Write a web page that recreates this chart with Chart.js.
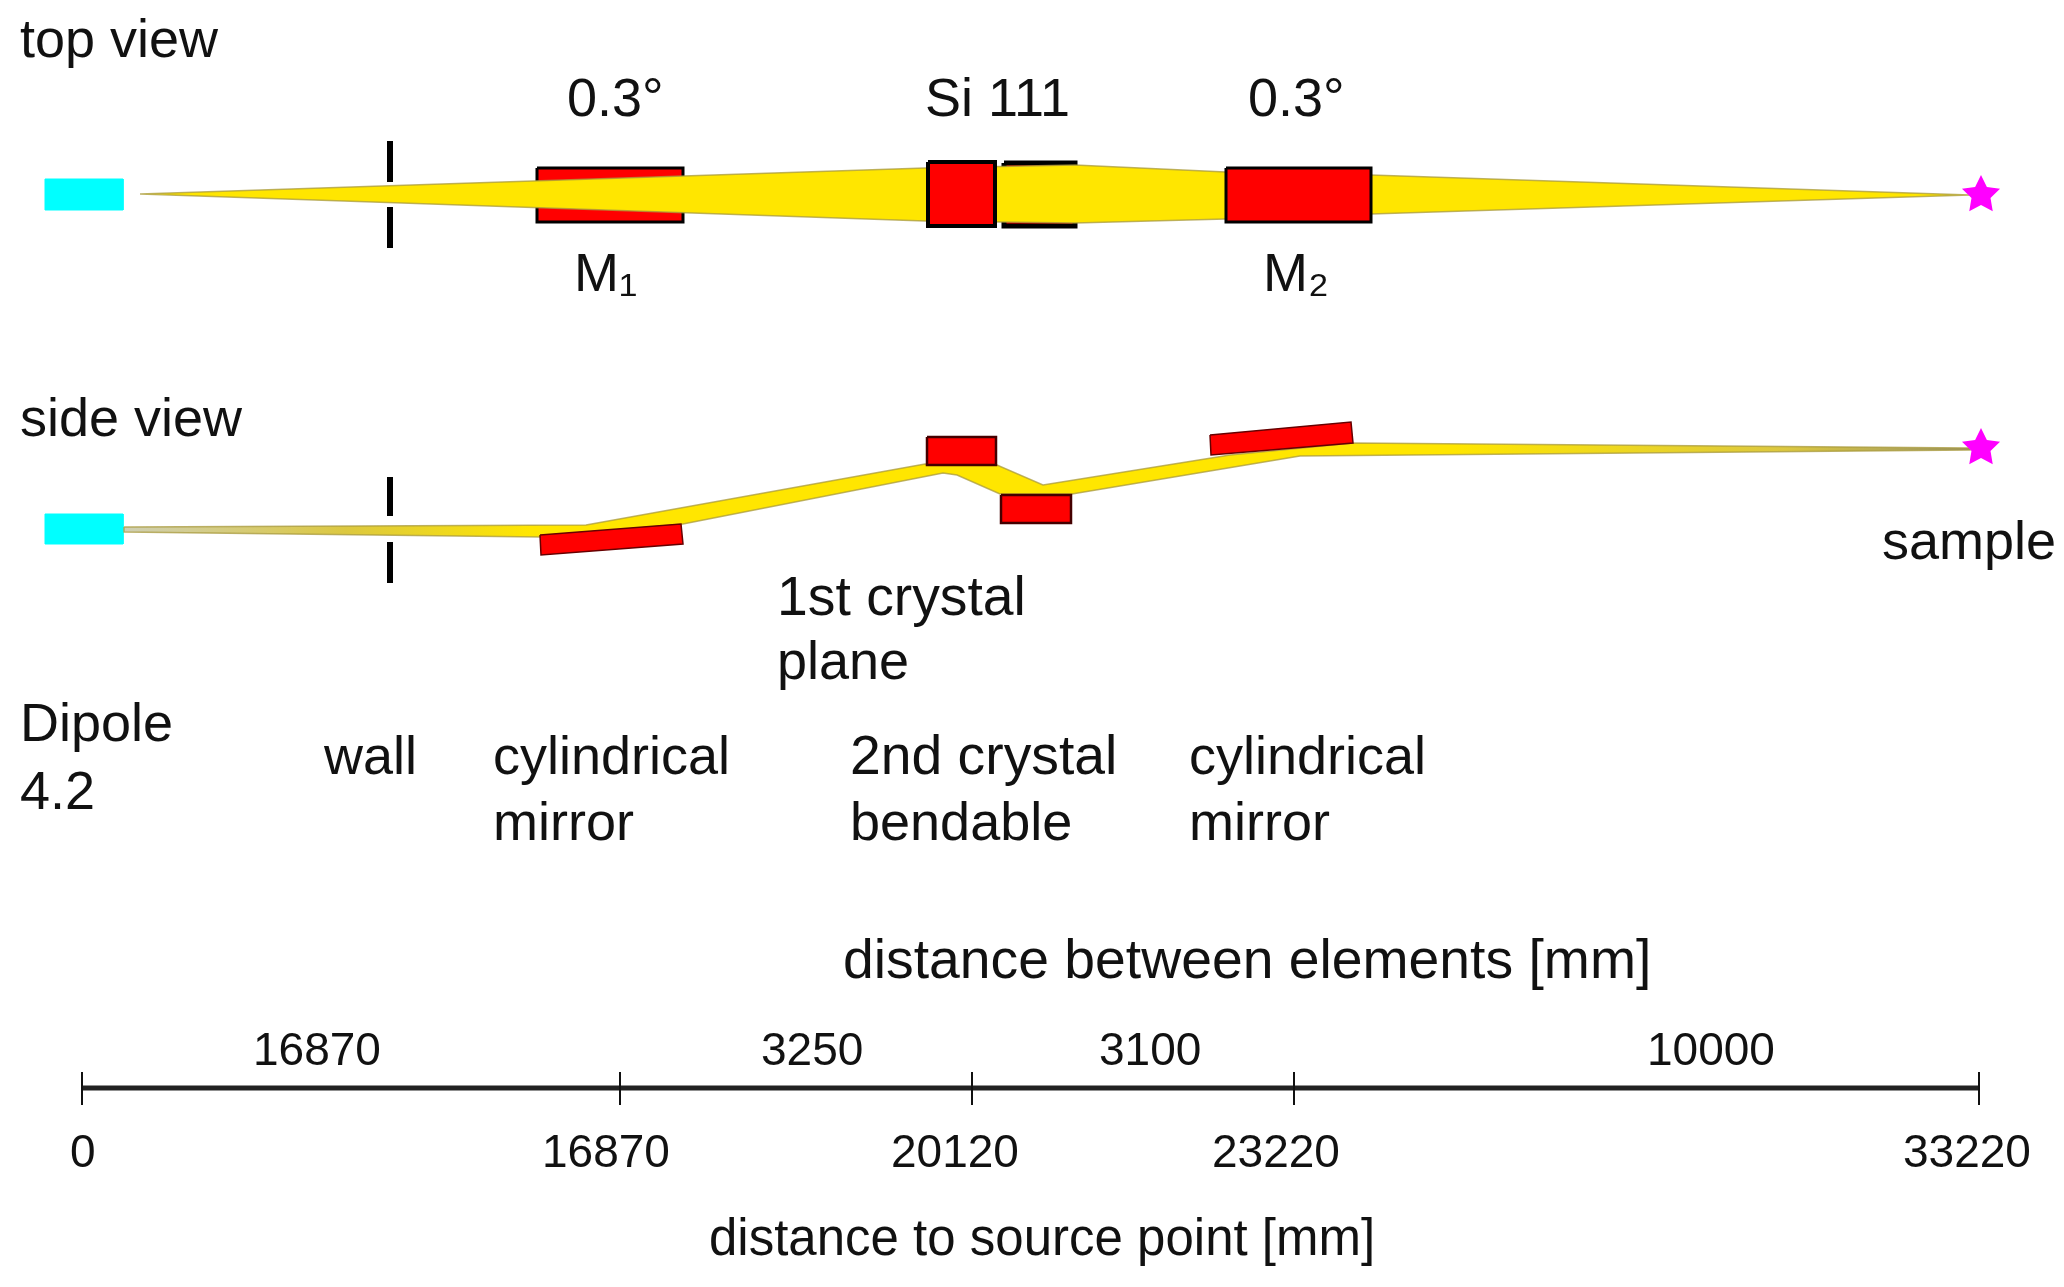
<!DOCTYPE html>
<html>
<head>
<meta charset="utf-8">
<style>
  html, body { margin: 0; background: #fff; }
  canvas { display: block; }
</style>
<script src="https://cdn.jsdelivr.net/npm/chart.js@4"></script>
</head>
<body>
<canvas id="chart" width="2064" height="1287"></canvas>
<script>
// schematic, so both scales just run over the width and height of the figure

// top view
var sourceTopX = [45, 123, 123, 45, 45]
var sourceTopY = [179, 179, 210, 210, 179]
var wallUpperX = [390, 390]
var wallTopUpperY = [141, 182]
var wallTopLowerY = [207, 248]
var mirror1TopX = [537, 683, 683, 537, 537]
var mirror1TopY = [168, 168, 222, 222, 168]
var crystal1TopX = [928, 995, 995, 928, 928]
var crystal1TopY = [162, 162, 226, 226, 162]
var crystal2TopX = [1004, 1075, 1075, 1004, 1004]
var crystal2TopY = [163, 163, 226, 226, 163]
var mirror2TopX = [1226, 1371, 1371, 1226, 1226]
var mirror2TopY = [168, 168, 222, 222, 168]
var beamTopX = [140, 925, 1075, 1226, 1371, 1970, 1371, 1226, 1075, 925, 140]
var beamTopY = [194, 168, 165, 172, 175, 195, 214, 219, 223, 221, 194]

// side view
var sourceSideX = sourceTopX
var sourceSideY = [514, 514, 544, 544, 514]
var wallSideUpperY = [477, 516]
var wallSideLowerY = [542, 583]
var mirror1SideX = [540, 681, 683, 541, 540]
var mirror1SideY = [535, 524, 544, 555, 535]
var crystal1SideX = [927, 996, 996, 927, 927]
var crystal1SideY = [437, 437, 465, 465, 437]
var crystal2SideX = [1001, 1071, 1071, 1001, 1001]
var crystal2SideY = [495, 495, 523, 523, 495]
var mirror2SideX = [1210, 1351, 1353, 1211, 1210]
var mirror2SideY = [435, 422, 443, 455, 435]
var beamSideX = [124, 586, 925, 997, 1043, 1230, 1353, 1970, 1970, 1300, 1072, 1000, 957, 943, 683, 540, 124, 124]
var beamSideY = [527, 525, 464, 465, 485, 455, 443, 448, 450, 456, 494, 494, 475, 473, 524, 537, 532, 527]

// samples
var sampleX = [1981, 1981]
var sampleY = [194, 447]

// distance axis
var axisPos = [82, 620, 972, 1294, 1979]
var axisValues = ['0', '16870', '20120', '23220', '33220']
var axisValueX = [70, 542, 891, 1212, 1903]
var gapValues = ['16870', '3250', '3100', '10000']
var gapValueX = [253, 761, 1099, 1647]

var labelText = ['top view', '0.3°', 'Si 111', '0.3°', 'M₁', 'M₂', 'side view', 'sample',
    'plane', 'Dipole', '4.2', 'wall', 'cylindrical', 'mirror',
    'bendable', 'cylindrical', 'mirror']
var labelX = [20, 567, 925, 1248, 574, 1263, 20, 1882, 777, 20, 20, 324, 493, 493, 850, 1189, 1189]
var labelY = [57, 116, 116, 116, 291, 291, 436, 559, 679, 741, 809, 774, 774, 840, 840, 774, 840]

var wideText = ['1st crystal', '2nd crystal', 'distance between elements [mm]']
var wideX = [777, 850, 843]
var wideY = [615, 774, 978]

var footerText = 'distance to source point [mm]'
var footerX = 709
var footerY = 1255

var RED = '#ff0000', YELLOW = '#ffe600', CYAN = '#00ffff', OLIVE = 'rgba(168,154,60,0.75)'

var ctx = document.getElementById('chart').getContext('2d')
var datasets = []

function shape(xs, ys, fillColor, edge, edgeWidth) {
    datasets.push({
        data: xs.map((x, i) => ({ x: x, y: ys[i] })),
        showLine: true,
        borderColor: edge || fillColor,
        borderWidth: edgeWidth === undefined ? 1 : edgeWidth,
        backgroundColor: fillColor,
        fill: 'shape',
        pointRadius: 0,
        order: -datasets.length
    })
}

function line(xs, ys, color, width) {
    datasets.push({
        data: xs.map((x, i) => ({ x: x, y: ys[i] })),
        showLine: true,
        borderColor: color,
        borderWidth: width,
        fill: false,
        pointRadius: 0,
        order: -datasets.length
    })
}

function makeStar() {
    var c = document.createElement('canvas')
    c.width = 40; c.height = 40
    var g = c.getContext('2d')
    g.fillStyle = '#ff00ff'
    g.beginPath()
    for (var i = 0; i < 10; i++) {
        var r = i % 2 ? 10 : 20
        var a = -Math.PI / 2 + i * Math.PI / 5
        g.lineTo(20 + r * Math.cos(a), 21 + r * Math.sin(a))
    }
    g.closePath()
    g.fill()
    return c
}

// the side beam washes out to grey at both thin ends
var sideBeamFill = ctx.createLinearGradient(124, 0, 1970, 0)
sideBeamFill.addColorStop(0, '#cfcfb4')
sideBeamFill.addColorStop(0.12, '#dcc840')
sideBeamFill.addColorStop(0.22, YELLOW)
sideBeamFill.addColorStop(0.72, YELLOW)
sideBeamFill.addColorStop(0.9, '#dcc840')
sideBeamFill.addColorStop(1, '#9a9466')

// top view, back to front
shape(sourceTopX, sourceTopY, CYAN)
shape(mirror1TopX, mirror1TopY, RED, '#000', 3)
shape(crystal2TopX, crystal2TopY, RED, '#000', 5)
shape(beamTopX, beamTopY, YELLOW, OLIVE, 1.5)
shape(crystal1TopX, crystal1TopY, RED, '#000', 4)
shape(mirror2TopX, mirror2TopY, RED, '#000', 3)
line(wallUpperX, wallTopUpperY, '#000', 6)
line(wallUpperX, wallTopLowerY, '#000', 6)

// side view
shape(sourceSideX, sourceSideY, CYAN)
shape(beamSideX, beamSideY, sideBeamFill, OLIVE, 1.5)
shape(mirror1SideX, mirror1SideY, RED, '#600', 1.5)
shape(crystal1SideX, crystal1SideY, RED, '#400', 2.5)
shape(crystal2SideX, crystal2SideY, RED, '#400', 2.5)
shape(mirror2SideX, mirror2SideY, RED, '#600', 1.5)
line(wallUpperX, wallSideUpperY, '#000', 6)
line(wallUpperX, wallSideLowerY, '#000', 6)

// axis
line([axisPos[0], axisPos[axisPos.length - 1]], [1088, 1088], '#222', 5)
axisPos.forEach(p => line([p, p], [1072, 1105], '#111', 2))

// stars on top of the beam ends
datasets.push({
    data: sampleX.map((x, i) => ({ x: x, y: sampleY[i] })),
    showLine: false,
    pointStyle: makeStar(),
    pointRadius: 20,
    order: -datasets.length
})

var textPlugin = {
    id: 'figureText',
    afterDatasetsDraw(chart) {
        var c = chart.ctx
        var xs = chart.scales.x, ys = chart.scales.y
        function put(text, x, y) {
            c.fillText(text, xs.getPixelForValue(x), ys.getPixelForValue(y))
        }
        c.save()
        c.fillStyle = '#111'
        c.textBaseline = 'alphabetic'
        c.textAlign = 'left'
        c.font = '54px "Liberation Sans"'
        labelText.forEach((t, i) => put(t, labelX[i], labelY[i]))
        c.font = '55.3px "Liberation Sans"'
        wideText.forEach((t, i) => put(t, wideX[i], wideY[i]))
        c.font = '51px "Liberation Sans"'
        put(footerText, footerX, footerY)
        c.font = '46px "Liberation Sans"'
        axisValues.forEach((t, i) => put(t, axisValueX[i], 1167))
        gapValues.forEach((t, i) => put(t, gapValueX[i], 1065))
        c.restore()
    }
}

new Chart(ctx, {
    type: 'scatter',
    data: { datasets: datasets },
    plugins: [textPlugin],
    options: {
        responsive: false,
        animation: false,
        clip: false,
        layout: { padding: 0, autoPadding: false },
        plugins: { legend: { display: false }, tooltip: { enabled: false } },
        scales: {
            x: { type: 'linear', display: false, min: 0, max: 2064 },
            y: { type: 'linear', display: false, min: 0, max: 1287, reverse: true }
        }
    }
})
</script>
</body>
</html>
